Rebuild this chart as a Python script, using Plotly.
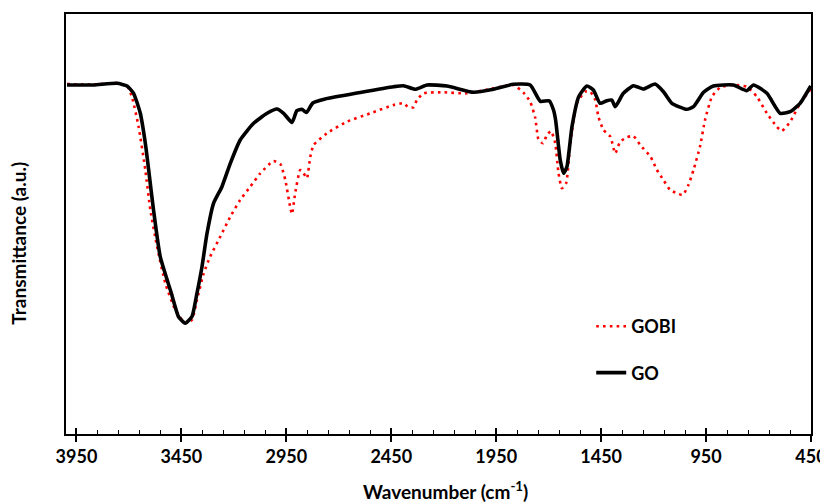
import plotly.graph_objects as go

# ---- data (wavenumber in cm-1, transmittance in a.u.) ----
go_wn = [3995, 3869, 3757, 3709, 3678, 3646, 3622, 3606, 3583, 3551, 3498, 3464, 3432,
         3400, 3376, 3352, 3328, 3297, 3257, 3217, 3170, 3106, 3042, 2995, 2963, 2923,
         2900, 2876, 2854, 2824, 2765, 2598, 2439, 2392, 2336, 2280, 2185, 2058, 1963,
         1868, 1788, 1740, 1698, 1677, 1667, 1645, 1629, 1613, 1589, 1557, 1518, 1487,
         1455, 1423, 1399, 1383, 1344, 1296, 1248, 1193, 1153, 1113, 1042, 1010, 962,
         915, 820, 756, 724, 660, 597, 549, 502, 451]
go_t = [349, 349, 350.7, 348, 340.7, 320.7, 290.7, 264, 224, 177.3, 140.7, 117.3, 110.7,
        117.3, 140.7, 167.3, 200.7, 230.7, 247.3, 270.7, 294, 310.7, 320.7, 325, 320.7, 311.5,
        323.3, 324.7, 321.5, 331, 335, 341.5, 347.3, 348.3, 344.7, 349, 348, 341.7, 344.7,
        349.7, 349, 332.7, 333.2, 324, 314, 274, 260.7, 267.3, 307.3, 337.3, 348, 344,
        330.7, 333.3, 334, 327.3, 340.7, 348.3, 345, 350, 342.3, 330.7, 324.7, 327.3, 341.7,
        348, 349, 343.3, 349, 340.7, 320.7, 322.3, 330.7, 348]

gobi_wn = [3995, 3869, 3757, 3709, 3686, 3654, 3622, 3598, 3566, 3527, 3479, 3432, 3400,
           3376, 3344, 3313, 3265, 3217, 3170, 3122, 3074, 3011, 2979, 2955, 2932, 2923,
           2908, 2884, 2868, 2852, 2836, 2820, 2757, 2661, 2550, 2439, 2392, 2368, 2344,
           2328, 2296, 2201, 2090, 1963, 1868, 1820, 1788, 1764, 1749, 1728, 1708, 1689,
           1669, 1653, 1637, 1617, 1597, 1566, 1526, 1502, 1478, 1463, 1439, 1406, 1383,
           1359, 1327, 1296, 1264, 1215, 1184, 1153, 1121, 1089, 1061, 1034, 1010, 979,
           955, 922, 882, 820, 756, 708, 660, 613, 589, 549, 502, 451]
gobi_t = [350, 349.5, 351, 348, 337.3, 307.3, 264, 224, 187.3, 151, 124, 111, 114,
          134, 160.7, 177.3, 197.3, 217.3, 234, 247.3, 260.7, 273, 270, 254, 227.3, 220,
          240.7, 264, 260.7, 255.7, 277.3, 289, 300.7, 312.3, 320.7, 329, 330.7, 326.7, 326.7,
          334, 340.7, 341.7, 340.7, 345.7, 349, 341.3, 332.3, 316, 295, 290.7, 299, 303,
          291, 260.7, 245.7, 250.7, 290.7, 330.7, 342.3, 342.3, 334, 317.3, 304, 297.3, 280.7,
          292.3, 296.7, 298, 289, 277.3, 264, 254, 244, 240.7, 239, 249, 264, 287.3,
          314, 337.3, 346.7, 349, 347.3, 337.3, 320.7, 307.3, 303, 312.3, 330.7, 345]

x_ticks = [3950, 3450, 2950, 2450, 1950, 1450, 950, 450]
x_range = [4000, 450]
y_range = [0, 420]

FONT = "Lato"

fig = go.Figure()
fig.add_trace(go.Scatter(
    x=gobi_wn, y=gobi_t, name="GOBI", mode="lines", legendgroup="a",
    line=dict(color="#FF0000", width=2.6, dash="2.6px,4.2px", shape="spline", smoothing=0.5)))
fig.add_trace(go.Scatter(
    x=go_wn, y=go_t, name="GO", mode="lines", legendgroup="b",
    line=dict(color="#000000", width=3.6, shape="spline", smoothing=0.5)))

# the page adds an 8 px body margin, so the figure is 820x495 and offset by 8 px
fig.update_layout(
    width=820, height=495,
    margin=dict(l=58, r=17, t=6, b=69, autoexpand=False),
    paper_bgcolor="white", plot_bgcolor="white",
    showlegend=True,
    legend=dict(x=0.705, y=0.30, xanchor="left", yanchor="top",
                traceorder="grouped", tracegroupgap=20,
                font=dict(family=FONT, size=18, color="black", weight="bold"),
                bgcolor="rgba(0,0,0,0)"),
    xaxis=dict(range=x_range, tickmode="array", tickvals=x_ticks,
               ticktext=[str(v) for v in x_ticks], automargin=False,
               ticks="outside", ticklen=6, tickwidth=1.5, tickcolor="black",
               showline=True, linecolor="black", linewidth=1.5, mirror=True,
               showgrid=False, zeroline=False,
               tickfont=dict(family=FONT, size=18, color="black", weight="bold"),
               minor=dict(ticks="inside", ticklen=4, tickwidth=1.2, tickcolor="black",
                          dtick=100, tick0=450, showgrid=False)),
    xaxis2=dict(overlaying="x", matches="x", range=x_range, side="bottom",
                tickmode="array", tickvals=x_ticks, showticklabels=False, automargin=False,
                ticks="inside", ticklen=6, tickwidth=1.5, tickcolor="black",
                showline=False, showgrid=False, zeroline=False),
    yaxis=dict(range=y_range, showticklabels=False, ticks="", automargin=False,
               showline=True, linecolor="black", linewidth=1.5, mirror=True,
               showgrid=False, zeroline=False),
    annotations=[
        dict(text="Transmittance (a.u.)", textangle=-90, xref="paper", yref="paper",
             x=-0.064, y=0.454, xanchor="center", yanchor="middle", showarrow=False,
             font=dict(family=FONT, size=19, color="black", weight="bold")),
        dict(text="Wavenumber (cm<sup>-1</sup>)", xref="paper", yref="paper",
             x=0.509, y=-0.134, xanchor="center", yanchor="middle", showarrow=False,
             font=dict(family=FONT, size=19, color="black", weight="bold")),
    ],
)
# invisible helper trace so the overlay axis (crossing major ticks) is drawn
fig.add_trace(go.Scatter(x=[x_range[1]], y=[y_range[0]], xaxis="x2", mode="markers",
                         marker=dict(opacity=0), showlegend=False, hoverinfo="skip"))

fig.write_html("out.html")
